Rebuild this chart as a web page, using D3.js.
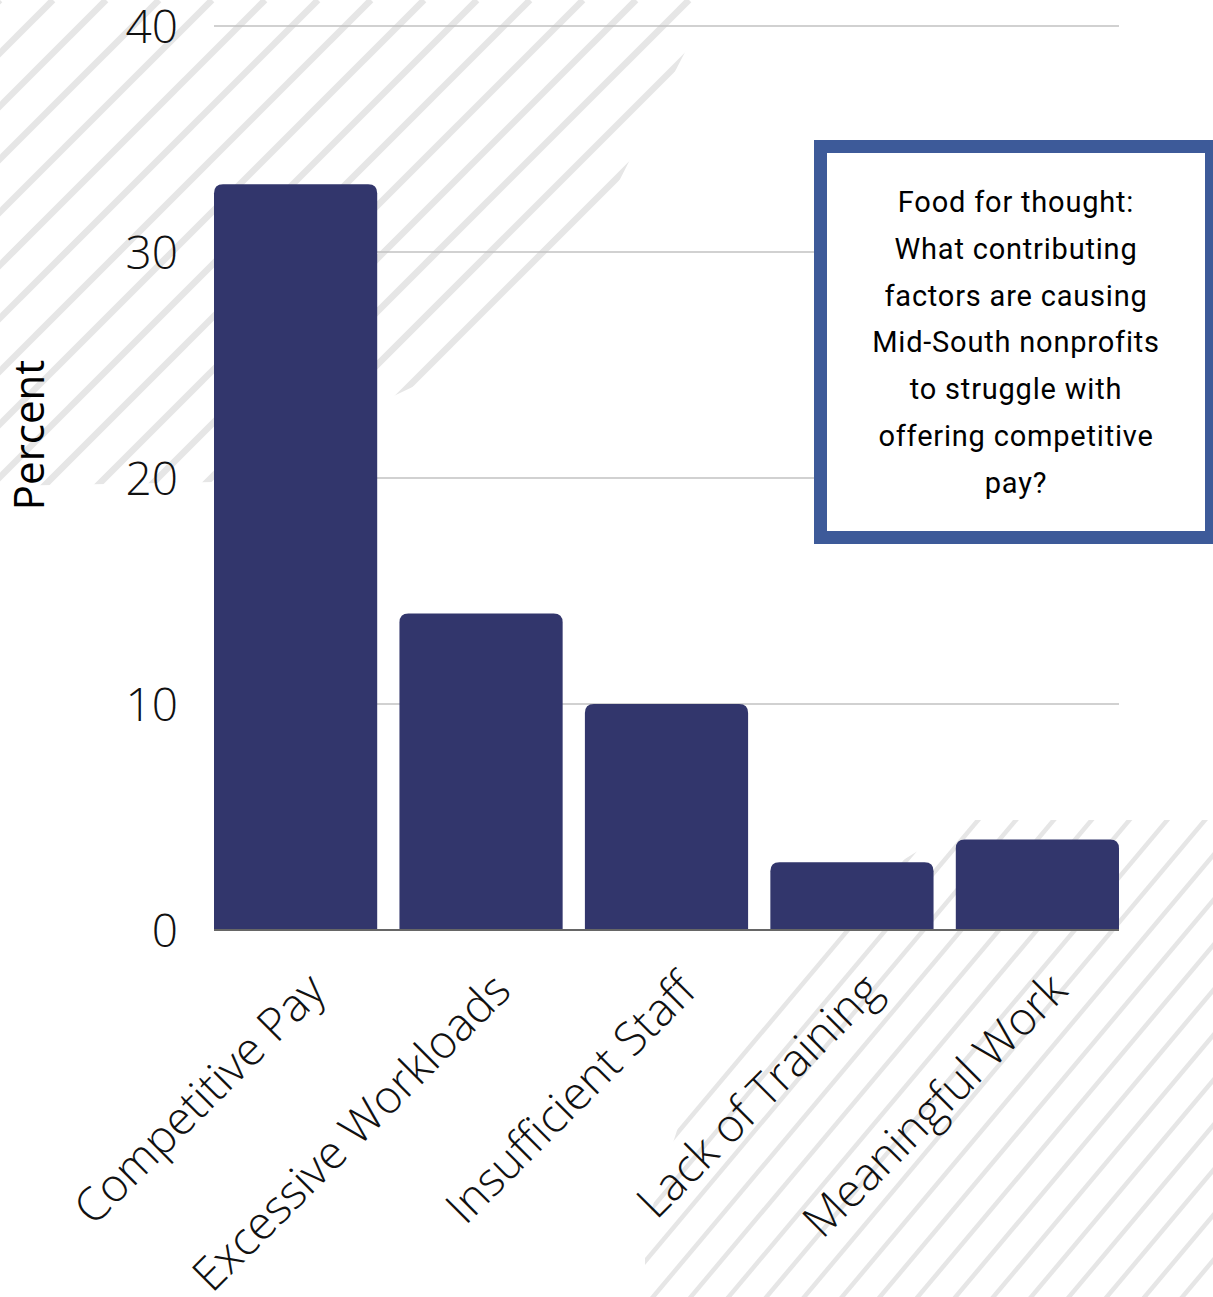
<!DOCTYPE html>
<html>
<head>
<meta charset="utf-8">
<script src="https://cdn.jsdelivr.net/npm/d3@7"></script>
<style>
  html, body { margin: 0; padding: 0; background: #ffffff; }
  svg { display: block; }
</style>
</head>
<body>
<script>
// ---- data ----
const categories = ["Competitive Pay", "Excessive Workloads", "Insufficient Staff", "Lack of Training", "Meaningful Work"];
const values = [33, 14, 10, 3, 4];
const yTicks = [0, 10, 20, 30, 40];
const yDomain = [0, 40];
const yLabel = "Percent";
const noteLines = [
  "Food for thought:",
  "What contributing",
  "factors are causing",
  "Mid-South nonprofits",
  "to struggle with",
  "offering competitive",
  "pay?"
];

// ---- layout ----
const W = 1213, H = 1297;
const plot = { left: 214, right: 1119, top: 26, bottom: 930 };

const svg = d3.select("body").append("svg")
  .attr("width", W).attr("height", H);

svg.append("rect").attr("width", W).attr("height", H).attr("fill", "#ffffff");

const defs = svg.append("defs");

// decorative hatch regions
const hatchTL = [[0,0],[712,0],[668,85],[612,195],[423,382],[214,482],[0,486]];
const hatchBR = [[968,820],[1213,820],[1213,1297],[645,1297],[645,1230],[690,1090],[800,950],[900,862]];

defs.append("clipPath").attr("id", "clipTL")
  .append("polygon").attr("points", hatchTL.map(p => p.join(",")).join(" "));
defs.append("clipPath").attr("id", "clipBR")
  .append("polygon").attr("points", hatchBR.map(p => p.join(",")).join(" "));

const gTL = svg.append("g").attr("clip-path", "url(#clipTL)");
d3.range(0, 1400, 53).forEach(c => {
  gTL.append("line")
    .attr("x1", c).attr("y1", 0).attr("x2", c - 900).attr("y2", 900)
    .attr("stroke", "#e6e6e6").attr("stroke-width", 6.5);
});

const gBR = svg.append("g").attr("clip-path", "url(#clipBR)");
const m = 1.19;
for (let c = 2074 - 45 * 30; c < 2074 + 45 * 30; c += 45) {
  const x1 = 500, x2 = 1300;
  gBR.append("line")
    .attr("x1", x1).attr("y1", c - m * x1).attr("x2", x2).attr("y2", c - m * x2)
    .attr("stroke", "#e6e6e6").attr("stroke-width", 4.5);
}

// ---- scales ----
const x = d3.scaleBand().domain(categories).range([plot.left, plot.right])
  .paddingInner(0.12).paddingOuter(0);
const y = d3.scaleLinear().domain(yDomain).range([plot.bottom, plot.top]);

// gridlines
svg.append("g").selectAll("line").data(yTicks.filter(t => t > 0)).join("line")
  .attr("x1", plot.left).attr("x2", plot.right)
  .attr("y1", d => y(d)).attr("y2", d => y(d))
  .attr("stroke", "#c2c2c2").attr("stroke-width", 1.6);

// bars with rounded top corners
const r = 9;
function barPath(d, i) {
  const x0 = x(categories[i]), w = x.bandwidth();
  const yt = y(d), yb = y(0);
  return `M${x0},${yb} L${x0},${yt + r} Q${x0},${yt} ${x0 + r},${yt} L${x0 + w - r},${yt} Q${x0 + w},${yt} ${x0 + w},${yt + r} L${x0 + w},${yb} Z`;
}
svg.append("g").selectAll("path").data(values).join("path")
  .attr("d", (d, i) => barPath(d, i))
  .attr("fill", "#32366c");

// baseline
svg.append("line")
  .attr("x1", plot.left).attr("x2", plot.right)
  .attr("y1", y(0)).attr("y2", y(0))
  .attr("stroke", "#666666").attr("stroke-width", 2);

// y axis tick labels
const yAxis = d3.axisLeft(y).tickValues(yTicks).tickSize(0).tickPadding(0);
const gy = svg.append("g").attr("transform", `translate(178,0)`).call(yAxis);
gy.select(".domain").remove();
gy.selectAll("text")
  .attr("x", 0).attr("dy", "0.35em")
  .attr("fill", "#111")
  .style("font-family", "'Open Sans', sans-serif")
  .style("font-weight", 300)
  .style("font-size", "46px");

// y label
svg.append("text")
  .attr("transform", "translate(44,435) rotate(-90)")
  .attr("text-anchor", "middle")
  .attr("fill", "#000")
  .style("font-family", "'Open Sans', sans-serif")
  .style("font-weight", 400)
  .style("font-size", "42px")
  .text(yLabel);

// x axis labels
const xAxis = d3.axisBottom(x).tickSize(0).tickPadding(0);
const gx = svg.append("g").attr("transform", `translate(0,${y(0)})`).call(xAxis);
gx.select(".domain").remove();
gx.selectAll(".tick text")
  .attr("text-anchor", "end")
  .attr("x", 0).attr("y", 0).attr("dy", 0)
  .attr("transform", "translate(32,63) rotate(-45)")
  .attr("fill", "#111")
  .style("font-family", "'Open Sans', sans-serif")
  .style("font-weight", 300)
  .style("font-size", "46px");

// annotation box
svg.append("rect")
  .attr("x", 820.5).attr("y", 146.5).attr("width", 391).attr("height", 391)
  .attr("fill", "#ffffff")
  .attr("stroke", "#3d5a99").attr("stroke-width", 13);

svg.append("g").selectAll("text").data(noteLines).join("text")
  .attr("x", 1016)
  .attr("y", (d, i) => 212 + i * 46.8)
  .attr("text-anchor", "middle")
  .attr("fill", "#000")
  .style("font-family", "Roboto, sans-serif")
  .style("font-size", "29px")
  .style("letter-spacing", "0.8px")
  .text(d => d);
</script>
</body>
</html>
